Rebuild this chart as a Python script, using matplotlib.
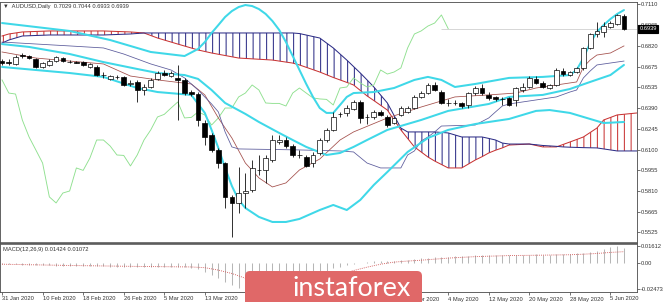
import matplotlib
matplotlib.use('Agg')
import matplotlib.pyplot as plt
import matplotlib.transforms as mtrans
from matplotlib.patches import FancyBboxPatch
import numpy as np

DPI = 81
W, H = 665, 302
plt.rcParams['font.family'] = ['Liberation Sans', 'DejaVu Sans']
plt.rcParams['hatch.linewidth'] = 0.9

# AUDUSD daily candles, bar 0 = 31 Jan 2020
opens = [.6714, .6707, .6694, .6756, .6749, .6728, .6673, .6687, .6714, .6735,
         .6710, .6707, .6707, .6673, .6673, .6617, .6590, .6604, .6604, .6555,
         .6569, .6513, .6534, .6590, .6631, .6610, .6597, .6583, .6499, .6485,
         .6284, .6201, .6097, .6006, .5771, .5729, .5798, .5819, .5958, .5958,
         .6027, .6152, .6166, .6124, .6062, .6048, .6006, .6076, .6166, .6236,
         .6347, .6354, .6381, .6430, .6326, .6326, .6361, .6326, .6284, .6340,
         .6361, .6388, .6465, .6492, .6548, .6499, .6423, .6423, .6423, .6409,
         .6492, .6527, .6479, .6465, .6451, .6458, .6444, .6513, .6534, .6590,
         .6562, .6527, .6548, .6645, .6617, .6638, .6666, .6805, .6902, .6916,
         .6950, .6971, .7029]
highs = [.6728, .6728, .6756, .6770, .6756, .6735, .6707, .6728, .6749, .6742,
         .6721, .6714, .6714, .6701, .6687, .6638, .6617, .6617, .6610, .6583,
         .6583, .6555, .6597, .6645, .6652, .6645, .6687, .6597, .6513, .6499,
         .6305, .6215, .6111, .6013, .5785, .5979, .5937, .6027, .6062, .6062,
         .6201, .6201, .6187, .6138, .6097, .6062, .6083, .6180, .6249, .6361,
         .6361, .6409, .6444, .6444, .6347, .6374, .6374, .6340, .6326, .6402,
         .6402, .6479, .6506, .6562, .6569, .6513, .6451, .6444, .6430, .6499,
         .6541, .6555, .6499, .6472, .6465, .6465, .6534, .6562, .6610, .6610,
         .6576, .6555, .6666, .6666, .6645, .6673, .6812, .6909, .6985, .6985,
         .6992, .7041, .7044]
lows = [.6687, .6687, .6687, .6735, .6728, .6666, .6666, .6680, .6707, .6707,
        .6701, .6701, .6680, .6666, .6610, .6597, .6583, .6590, .6541, .6541,
        .6430, .6479, .6527, .6583, .6610, .6604, .6305, .6479, .6472, .6263,
        .6131, .6083, .5972, .5694, .5493, .5659, .5694, .5805, .5923, .5868,
        .6013, .6138, .6111, .6048, .6041, .5979, .5979, .6062, .6152, .6229,
        .6326, .6333, .6374, .6284, .6277, .6312, .6333, .6256, .6277, .6333,
        .6354, .6381, .6458, .6485, .6506, .6416, .6402, .6409, .6388, .6388,
        .6479, .6479, .6444, .6437, .6409, .6402, .6402, .6499, .6527, .6555,
        .6527, .6520, .6541, .6610, .6610, .6631, .6652, .6798, .6881, .6881,
        .6943, .6964, .6933]
closes = [.6701, .6704, .6742, .6749, .6735, .6673, .6701, .6714, .6742, .6714,
          .6707, .6704, .6687, .6694, .6617, .6614, .6610, .6601, .6548, .6562,
          .6513, .6534, .6583, .6631, .6617, .6631, .6583, .6492, .6485, .6305,
          .6187, .6097, .6006, .5771, .5729, .5798, .5812, .5972, .5955, .6041,
          .6166, .6166, .6124, .6062, .6059, .5986, .6062, .6166, .6236, .6326,
          .6344, .6388, .6430, .6319, .6323, .6361, .6340, .6270, .6319, .6388,
          .6388, .6465, .6492, .6548, .6513, .6423, .6420, .6420, .6402, .6492,
          .6527, .6492, .6458, .6451, .6448, .6409, .6527, .6534, .6597, .6562,
          .6534, .6548, .6652, .6624, .6638, .6666, .6805, .6902, .6923, .6957,
          .6978, .7034, .6939]

# Bollinger bands, read at selected bars
bb_up_i = [0, 10, 16, 22, 27, 29, 30, 31, 32, 33, 34, 35, 36, 37, 38, 39, 40, 41, 42, 43,
           44, 45, 46, 47, 48, 49, 50, 51, 52, 55, 58, 61, 63, 65, 67, 70, 75, 80, 84, 85,
           86, 87, 88, 89, 90, 91, 92]
bb_up = [.6978, .6923, .6860, .6777, .6749, .6798, .6846, .6909, .6964, .7020,
         .7061, .7089, .7103, .7096, .7075, .7041, .6992, .6930, .6846, .6749,
         .6652, .6555, .6465, .6388, .6354, .6354, .6409, .6465, .6492, .6499,
         .6527, .6583, .6604, .6583, .6534, .6555, .6597, .6604, .6617, .6652,
         .6735, .6839, .6916, .6964, .7006, .7041, .7068]
bb_mid_i = [0, 4, 10, 15, 20, 23, 27, 29, 31, 33, 36, 38, 41, 43, 45, 48, 50, 52, 54, 57,
            62, 66, 72, 75, 80, 84, 87, 90, 92]
bb_mid = [.6832, .6812, .6763, .6707, .6659, .6631, .6617, .6590, .6513, .6423,
          .6347, .6291, .6215, .6166, .6118, .6062, .6076, .6118, .6166, .6236,
          .6305, .6368, .6416, .6465, .6479, .6520, .6569, .6617, .6687]
bb_lo_i = [0, 5, 10, 15, 20, 23, 28, 30, 31, 32, 33, 34, 35, 36, 38, 40, 42, 44, 47, 49,
           51, 53, 55, 57, 60, 63, 66, 70, 75, 79, 81, 84, 87, 89, 92]
bb_lo = [.6673, .6652, .6631, .6604, .6527, .6499, .6479, .6354, .6236, .6111,
         .5972, .5847, .5750, .5694, .5632, .5597, .5597, .5618, .5680, .5715,
         .5680, .5750, .5854, .5944, .6083, .6180, .6236, .6277, .6312, .6368,
         .6374, .6354, .6312, .6284, .6291]

# Ichimoku
tenkan_i = [0, 5, 10, 15, 19, 23, 28, 30, 32, 34, 36, 38, 40, 42, 44, 47, 50, 52, 57, 62,
            67, 72, 76, 79, 82, 85, 86, 87, 88, 90, 92]
tenkan = [.6777, .6735, .6714, .6694, .6610, .6583, .6555, .6479, .6319, .6180,
          .6006, .5903, .5840, .5868, .5958, .6034, .6166, .6222, .6319, .6395,
          .6465, .6479, .6492, .6527, .6548, .6569, .6673, .6721, .6756, .6770, .6819]
kijun_i = [0, 10, 15, 18, 22, 25, 27, 29, 31, 32, 33, 34, 35, 44, 50, 52, 54, 56, 59, 60,
           61, 62, 63, 64, 65, 70, 72, 73, 74, 75, 82, 84, 85, 86, 87, 88, 92]
kijun = [.6846, .6819, .6805, .6763, .6694, .6652, .6597, .6513, .6416, .6361,
         .6222, .6118, .6104, .6097, .6090, .6083, .6006, .5972, .5972, .6062,
         .6090, .6159, .6187, .6222, .6263, .6270, .6319, .6361, .6402, .6416,
         .6465, .6499, .6513, .6597, .6645, .6687, .6714]
cloud_i = [0, 1, 3, 7, 15, 19, 21, 23, 26, 29, 31, 35, 40, 43, 44, 47, 49, 50, 51, 52,
           53, 54, 55, 57, 59, 60, 61, 63, 64, 66, 68, 70, 71, 72, 73, 74, 75, 78, 80, 82,
           83, 84, 86, 88, 89, 91, 94]
span_a = [.6888, .6902, .6916, .6923, .6923, .6916, .6909, .6874, .6832, .6791,
          .6770, .6735, .6721, .6700, .6687, .6638, .6600, .6583, .6566, .6548,
          .6510, .6472, .6440, .6374, .6236, .6177, .6118, .6048, .6020, .5972,
          .5972, .6027, .6050, .6076, .6095, .6111, .6131, .6138, .6118, .6118,
          .6135, .6152, .6187, .6249, .6305, .6340, .6354]
span_b = [.6839, .6860, .6888, .6895, .6895, .6902, .6909, .6909, .6909, .6909,
          .6909, .6909, .6909, .6909, .6905, .6874, .6805, .6763, .6721, .6676,
          .6631, .6583, .6534, .6423, .6249, .6222, .6222, .6222, .6222, .6215,
          .6187, .6187, .6187, .6177, .6166, .6145, .6138, .6138, .6128, .6122,
          .6118, .6116, .6113, .6111, .6104, .6090, .6090]
chikou_shift = 26

# MACD(12,26,9)
macd = [-0.0010, -0.0012, -0.0014, -0.0016, -0.0018, -0.0020, -0.0022, -0.0024, -0.0026, -0.0027,
        -0.0028, -0.0029, -0.0030, -0.0031, -0.0032, -0.0033, -0.0034, -0.0035, -0.0036, -0.0037,
        -0.0038, -0.0039, -0.0039, -0.0038, -0.0038, -0.0038, -0.0040, -0.0043, -0.0048, -0.0060,
        -0.0083, -0.0110, -0.0145, -0.0177, -0.0210, -0.0235, -0.0247, -0.0245, -0.0238, -0.0226,
        -0.0212, -0.0195, -0.0178, -0.0162, -0.0146, -0.0133, -0.0115, -0.0093, -0.0072, -0.0052,
        -0.0036, -0.0020, -0.0006, 0.0004, 0.0010, 0.0015, 0.0018, 0.0020, 0.0022, 0.0026,
        0.0030, 0.0036, 0.0043, 0.0050, 0.0055, 0.0058, 0.0061, 0.0064, 0.0066, 0.0069,
        0.0072, 0.0075, 0.0076, 0.0076, 0.0076, 0.0075, 0.0076, 0.0078, 0.0080, 0.0081,
        0.0080, 0.0080, 0.0083, 0.0085, 0.0087, 0.0090, 0.0098, 0.0108, 0.0118, 0.0135,
        0.0150, 0.0161, 0.0142]
sig_i = [0, 10, 20, 28, 30, 32, 34, 36, 38, 40, 42, 44, 46, 48, 50, 52, 54, 56, 58, 60,
         62, 64, 66, 70, 75, 80, 84, 86, 88, 90, 92]
signal = [-0.0012, -0.0024, -0.0033, -0.0038, -0.0045, -0.0068, -0.0100, -0.0145, -0.0185, -0.0210,
          -0.0220, -0.0205, -0.0180, -0.0145, -0.0110, -0.0072, -0.0040, -0.0012, 0.0008, 0.0018,
          0.0026, 0.0036, 0.0046, 0.0060, 0.0070, 0.0074, 0.0078, 0.0083, 0.0090, 0.0100, 0.0107]

price_ticks = [0.7110, 0.6965, 0.6820, 0.6675, 0.6535, 0.6390, 0.6245, 0.6100,
               0.5955, 0.5810, 0.5665, 0.5525]
# date labels that are not covered by the watermark
date_pos = [0, 6, 12, 18, 24, 30, 60, 66, 72, 78, 84, 90]
date_labels = ['31 Jan 2020', '10 Feb 2020', '18 Feb 2020', '26 Feb 2020', '5 Mar 2020',
               '13 Mar 2020', '24 Apr 2020', '4 May 2020', '12 May 2020', '20 May 2020',
               '28 May 2020', '5 Jun 2020']

RED = '#c83232'
NAVY = '#2b2b85'
CYAN = '#3fd8e8'
TXT = '#333333'
FS = 5.1

fig = plt.figure(figsize=(W / DPI, H / DPI), dpi=DPI)
ax = fig.add_axes([0, 1 - 243 / H, 637 / W, 241 / H])
mx = fig.add_axes([0, 1 - 292 / H, 637 / W, 48 / H], sharex=ax)

bars = np.arange(len(opens))
o = np.array(opens); c = np.array(closes)
hi = np.array(highs); lo = np.array(lows)

# ichimoku cloud
ca = np.array(span_a); cb = np.array(span_b)
ax.fill_between(cloud_i, ca, cb, where=ca >= cb, interpolate=True,
                facecolor='none', edgecolor=RED, hatch='||', linewidth=0)
ax.fill_between(cloud_i, ca, cb, where=ca < cb, interpolate=True,
                facecolor='none', edgecolor=NAVY, hatch='||', linewidth=0)
ax.plot(cloud_i, span_a, color=RED, lw=0.9)
ax.plot(cloud_i, span_b, color=NAVY, lw=0.9)

# chikou, tenkan, kijun
ax.plot(bars[:len(bars) - chikou_shift], closes[chikou_shift:], color='#8fe08f', lw=0.8)
ax.plot(tenkan_i, tenkan, color='#a4504c', lw=0.7)
ax.plot(kijun_i, kijun, color='#5c5c9c', lw=0.7)

# bollinger
for xs, ys in [(bb_up_i, bb_up), (bb_mid_i, bb_mid), (bb_lo_i, bb_lo)]:
    ax.plot(xs, ys, color=CYAN, lw=1.8, solid_capstyle='round')

# ask line
ax.hlines(closes[-1], 65, 95, color='#c4c4c4', lw=0.6, zorder=1)

# candles
up = c >= o
ax.vlines(bars, lo, hi, color='black', lw=0.7, zorder=4)
ax.bar(bars, np.maximum(np.abs(c - o), 0.00012), bottom=np.minimum(o, c), width=0.7,
       color=np.where(up, 'white', 'black'), edgecolor='black', linewidth=0.6, zorder=5)

ax.set_xlim(-0.3, 93.93)
ax.set_ylim(0.5451, 0.7124)
ax.yaxis.tick_right()
ax.set_yticks(price_ticks)
ax.set_yticklabels(['%.4f' % v for v in price_ticks])
ax.tick_params(axis='y', direction='out', length=2.5, width=0.6, pad=1.2,
               labelsize=FS, colors=TXT)
ax.tick_params(axis='x', bottom=False, labelbottom=False)

tr = mtrans.blended_transform_factory(ax.transAxes, ax.transData)
ax.text(1.004, closes[-1], '%.4f' % closes[-1], transform=tr, ha='left', va='center',
        fontsize=FS, color='white', clip_on=False, zorder=10,
        bbox=dict(boxstyle='square,pad=0.25', fc='black', ec='black'))
ax.text(0.004, 0.99, '\u25bc  AUDUSD,Daily  0.7029 0.7044 0.6933 0.6939',
        transform=ax.transAxes, ha='left', va='top', fontsize=FS, color=TXT)

# MACD window
mx.vlines(bars, 0, macd, color='#b6b6b6', lw=0.9)
mx.plot(sig_i, signal, color='#d25858', lw=0.8, ls=(0, (1, 1.3)))
mx.set_ylim(-0.0276, 0.0180)
mx.yaxis.tick_right()
mx.set_yticks([0.01612, 0.0, -0.02473])
mx.set_yticklabels(['0.01612', '0.00', '-0.02473'])
mx.tick_params(axis='y', direction='out', length=2.5, width=0.6, pad=1.2,
               labelsize=FS, colors=TXT)
mx.set_xticks(date_pos)
mx.set_xticklabels(date_labels)
mx.tick_params(axis='x', direction='out', length=3, width=0.6, pad=1,
               labelsize=FS, colors=TXT)
for lab in mx.get_xticklabels():
    lab.set_ha('left')
mx.text(0.005, 0.93, 'MACD(12,26,9) 0.01424 0.01072', transform=mx.transAxes,
        ha='left', va='top', fontsize=FS, color=TXT)

for a in (ax, mx):
    for s in a.spines.values():
        s.set_color('#555555')
        s.set_linewidth(0.8)
ax.spines['bottom'].set_linewidth(1.4)
mx.spines['top'].set_linewidth(1.4)

# watermark logo
logo = FancyBboxPatch((245, -6), 177, 37, boxstyle='round,pad=0,rounding_size=5',
                      transform=mtrans.IdentityTransform(), fc='#e06868', ec='none', zorder=20)
fig.add_artist(logo)
fig.text(352 / W, 14 / H, 'instaforex', color='white', fontsize=24, family='Lato',
         ha='center', va='center', zorder=21)

fig.savefig('out.png', dpi=DPI)
